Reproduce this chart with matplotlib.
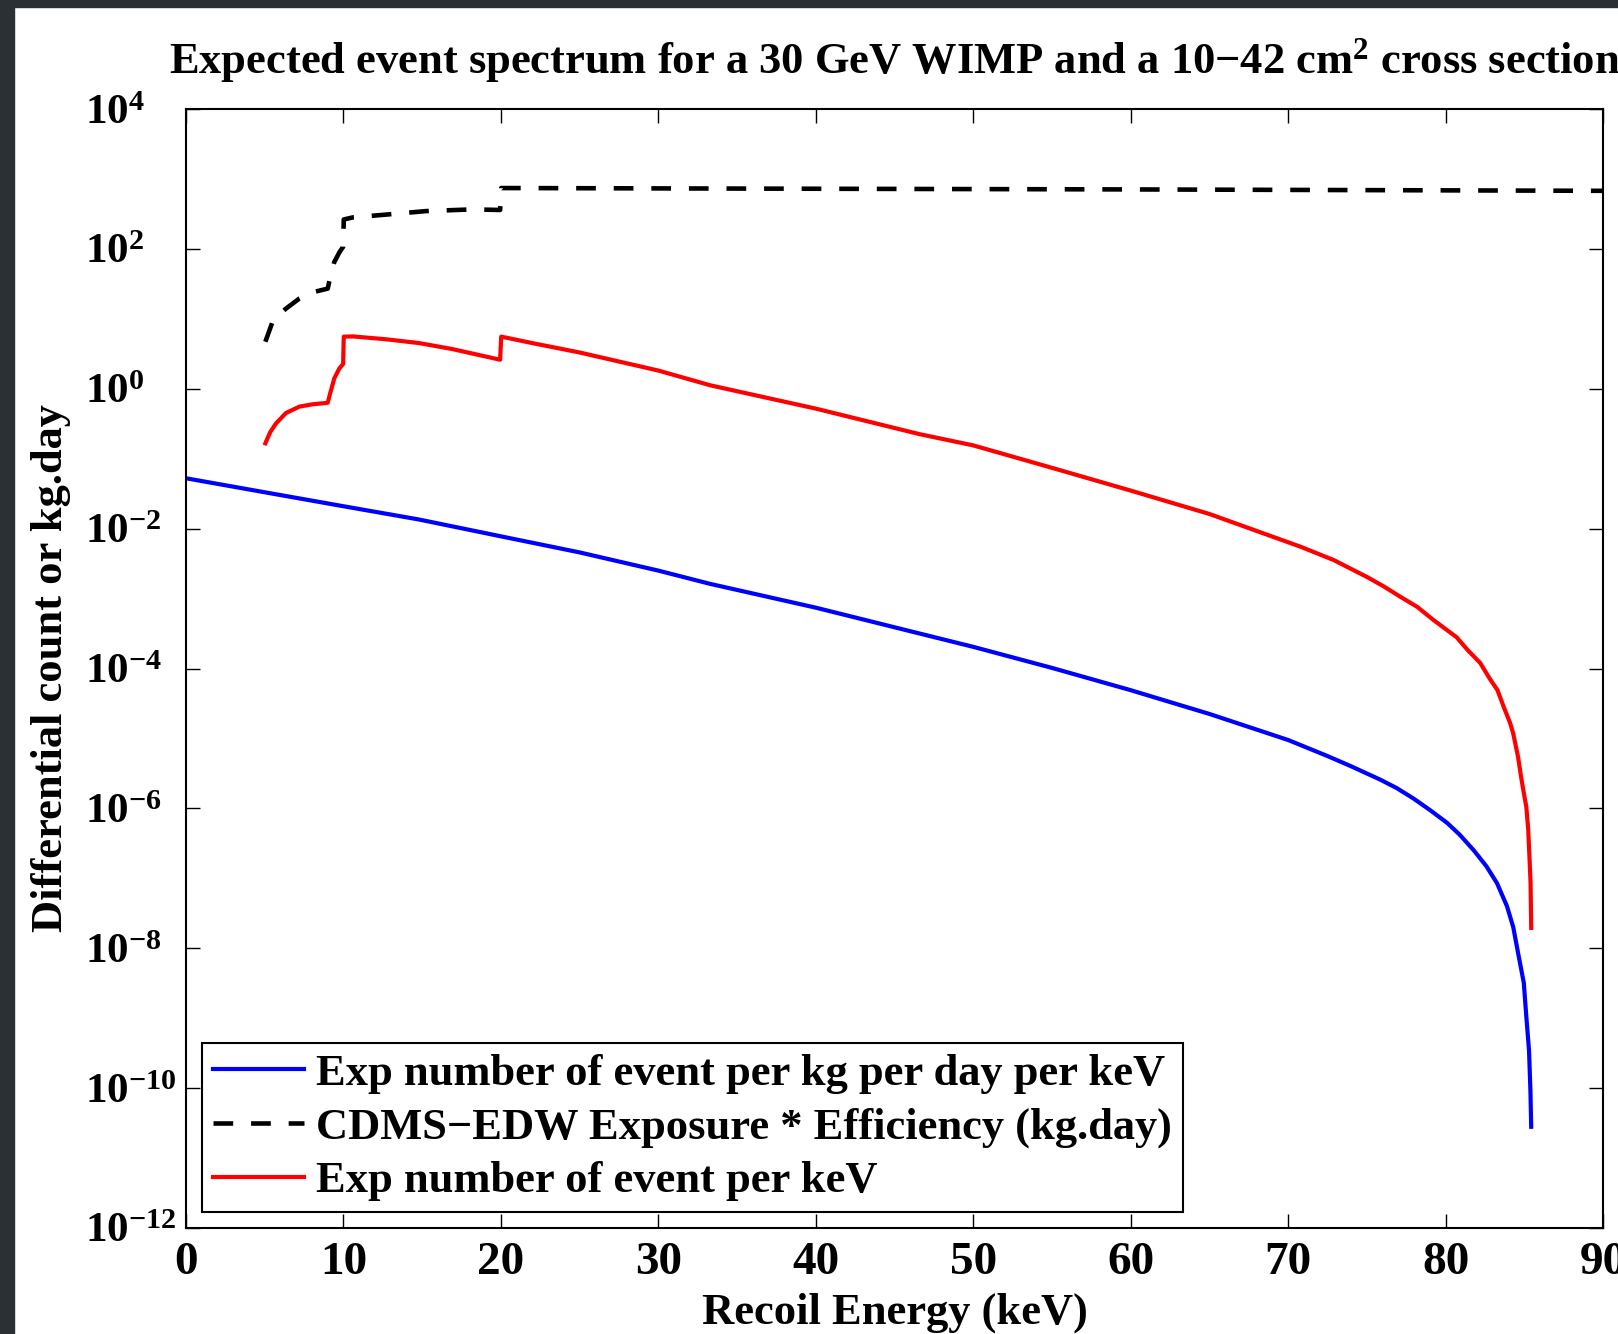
#======================================================================
# Expected WIMP event spectrum (log scale), MATLAB-style figure
#======================================================================
import numpy as np
import matplotlib
matplotlib.use("Agg")
import matplotlib.pyplot as plt
from matplotlib.patches import Rectangle
from matplotlib.ticker import FixedLocator, FixedFormatter

#--------------------------------------------------------------------------
#                    Data
#--------------------------------------------------------------------------
# blue : expected events per kg per day per keV
e_blue = [0, 5, 10, 14.8, 20, 25, 30, 33.3, 40, 46.6, 50, 55, 60, 65, 70,
          72.5, 74, 75.86, 76.9, 77.97, 79.0, 80.1, 80.9, 81.8, 82.6, 83.27,
          83.9, 84.3, 84.65, 84.97, 85.13, 85.3, 85.39, 85.44]
rate_blue = [5.25e-2, 3.31e-2, 2.09e-2, 1.35e-2, 7.76e-3, 4.57e-3, 2.51e-3,
             1.62e-3, 7.41e-4, 3.16e-4, 2.04e-4, 1.02e-4, 4.9e-5, 2.24e-5,
             9.5e-6, 5.6e-6, 4.0e-6, 2.57e-6, 1.95e-6, 1.38e-6, 9.5e-7, 6.2e-7,
             4.2e-7, 2.5e-7, 1.48e-7, 8.5e-8, 4.0e-8, 2.0e-8, 7.6e-9, 3.2e-9,
             1.05e-9, 3.5e-10, 9.3e-11, 2.8e-11]

# black dashed : CDMS-EDW exposure * efficiency (kg.day)
e_expo = [5.04, 5.55, 6.35, 7.2, 8.05, 9.0, 9.21, 9.42, 9.74, 9.98, 10.02,
          10.6, 12.7, 15.25, 18.2, 19.95, 20.02, 40, 60, 90]
expo = [4.7, 9.8, 14, 19.5, 24, 27, 44, 65, 89, 107, 263,
        282, 309, 347, 367, 360, 741, 724, 708, 676]

# red : expected events per keV
e_red = [5.04, 5.35, 5.72, 6.35, 7.2, 8.05, 9.0, 9.21, 9.42, 9.74, 9.98,
         10.02, 10.6, 12.7, 14.8, 16.9, 19.95, 20.02, 22.2, 25, 30, 33.3, 40,
         46.6, 50, 55, 60, 65, 70.8, 72.9, 75, 76.1, 77.1, 78.2, 79.25, 80.7,
         81.4, 82.2, 82.85, 83.3, 83.7, 84.1, 84.3, 84.6, 84.8, 84.97, 85.13,
         85.25, 85.33, 85.4, 85.44]
rate_red = [0.166, 0.24, 0.32, 0.45, 0.555, 0.60, 0.63, 0.95, 1.41, 1.95, 2.26,
            5.56, 5.6, 5.1, 4.5, 3.7, 2.6, 5.56, 4.4, 3.3, 1.82, 1.12, 0.52,
            0.224, 0.155, 0.074, 0.035, 0.0162, 5.5e-3, 3.55e-3, 2.04e-3,
            1.48e-3, 1.07e-3, 7.6e-4, 4.9e-4, 2.8e-4, 1.84e-4, 1.2e-4, 6.9e-5,
            4.9e-5, 2.8e-5, 1.66e-5, 1.17e-5, 5.5e-6, 2.8e-6, 1.66e-6, 1.05e-6,
            5.0e-7, 2.0e-7, 8.5e-8, 1.95e-8]

legend_labels = ["Exp number of event per kg per day per keV",
                 "CDMS\u2212EDW Exposure * Efficiency (kg.day)",
                 "Exp number of event per keV"]

x_ticks = [0, 10, 20, 30, 40, 50, 60, 70, 80, 90]
y_exps = [-12, -10, -8, -6, -4, -2, 0, 2, 4]

#--------------------------------------------------------------------------
#                    Fonts (Times-like bold, as MATLAB)
#--------------------------------------------------------------------------
plt.rcParams['font.family'] = ['Liberation Serif', 'DejaVu Serif']
plt.rcParams['font.weight'] = 'bold'
plt.rcParams['mathtext.fontset'] = 'custom'
plt.rcParams['mathtext.rm'] = 'Liberation Serif:bold'
plt.rcParams['mathtext.bf'] = 'Liberation Serif:bold'
plt.rcParams['mathtext.it'] = 'Liberation Serif:bold'
plt.rcParams['mathtext.default'] = 'rm'

W, H = 1618, 1334
fig = plt.figure(figsize=(W / 100, H / 100), dpi=100)
ax = fig.add_axes([186 / W, 1 - 1228 / H, (1603 - 186) / W, (1228 - 109) / H])

#--------------------------------------------------------------------------
#                    Curves
#--------------------------------------------------------------------------
lw = 3.0
ax.semilogy(e_blue, rate_blue, color='#0000ff', lw=lw, label=legend_labels[0])
ax.semilogy(e_expo, expo, color='black', lw=lw + 0.3, ls=(0, (4.3, 3.9)),
            label=legend_labels[1])
ax.semilogy(e_red, rate_red, color='#ff0000', lw=lw, label=legend_labels[2])

#--------------------------------------------------------------------------
#                    Axes, ticks, labels
#--------------------------------------------------------------------------
ax.set_xlim(0, 90)
ax.set_ylim(1e-12, 1e4)
ax.xaxis.set_major_locator(FixedLocator(x_ticks))
ax.yaxis.set_major_locator(FixedLocator([10.0 ** k for k in y_exps]))
ax.yaxis.set_minor_locator(FixedLocator([]))
ax.yaxis.set_major_formatter(FixedFormatter(
    [r'$10^{%s}$' % (str(k).replace('-', '\u2212')) for k in y_exps]))
ax.tick_params(which='both', direction='in', top=True, right=True,
               length=10, width=1.0)
ax.tick_params(axis='x', pad=10, labelsize=34)
ax.tick_params(axis='y', pad=73, labelsize=31)
plt.setp(ax.get_yticklabels(), ha='left')   # MATLAB keeps the "10" base aligned
for s in ax.spines.values():
    s.set_linewidth(1.5)

ax.set_xlabel("Recoil Energy (keV)", fontsize=32, fontweight='bold', labelpad=6)
ax.set_ylabel("Differential count or kg.day", fontsize=32, fontweight='bold')
ax.yaxis.set_label_coords(-0.081, 0.5)
ax.set_title("Expected event spectrum for a 30 GeV WIMP and a 10\u221242 cm$^{2}$ cross section",
             fontsize=32, fontweight='bold', pad=26)

leg = ax.legend(loc='lower left', bbox_to_anchor=(0.0113, 0.0139),
                borderaxespad=0, fancybox=False, framealpha=1,
                edgecolor='black', fontsize=32, handlelength=2.05,
                handletextpad=0.27, labelspacing=0.3, borderpad=0.25)
leg.get_frame().set_linewidth(1.5)

#--------------------------------------------------------------------------
#                    Dark screenshot border (left / top)
#--------------------------------------------------------------------------
fig.add_artist(Rectangle((0, 0), 14 / W, 1, transform=fig.transFigure,
                         color='#2b3035', zorder=10))
fig.add_artist(Rectangle((0, 1 - 7 / H), 1, 7 / H, transform=fig.transFigure,
                         color='#2b3035', zorder=10))

fig.savefig('out.png', dpi=100)
print("Completed Successfully ... ")
